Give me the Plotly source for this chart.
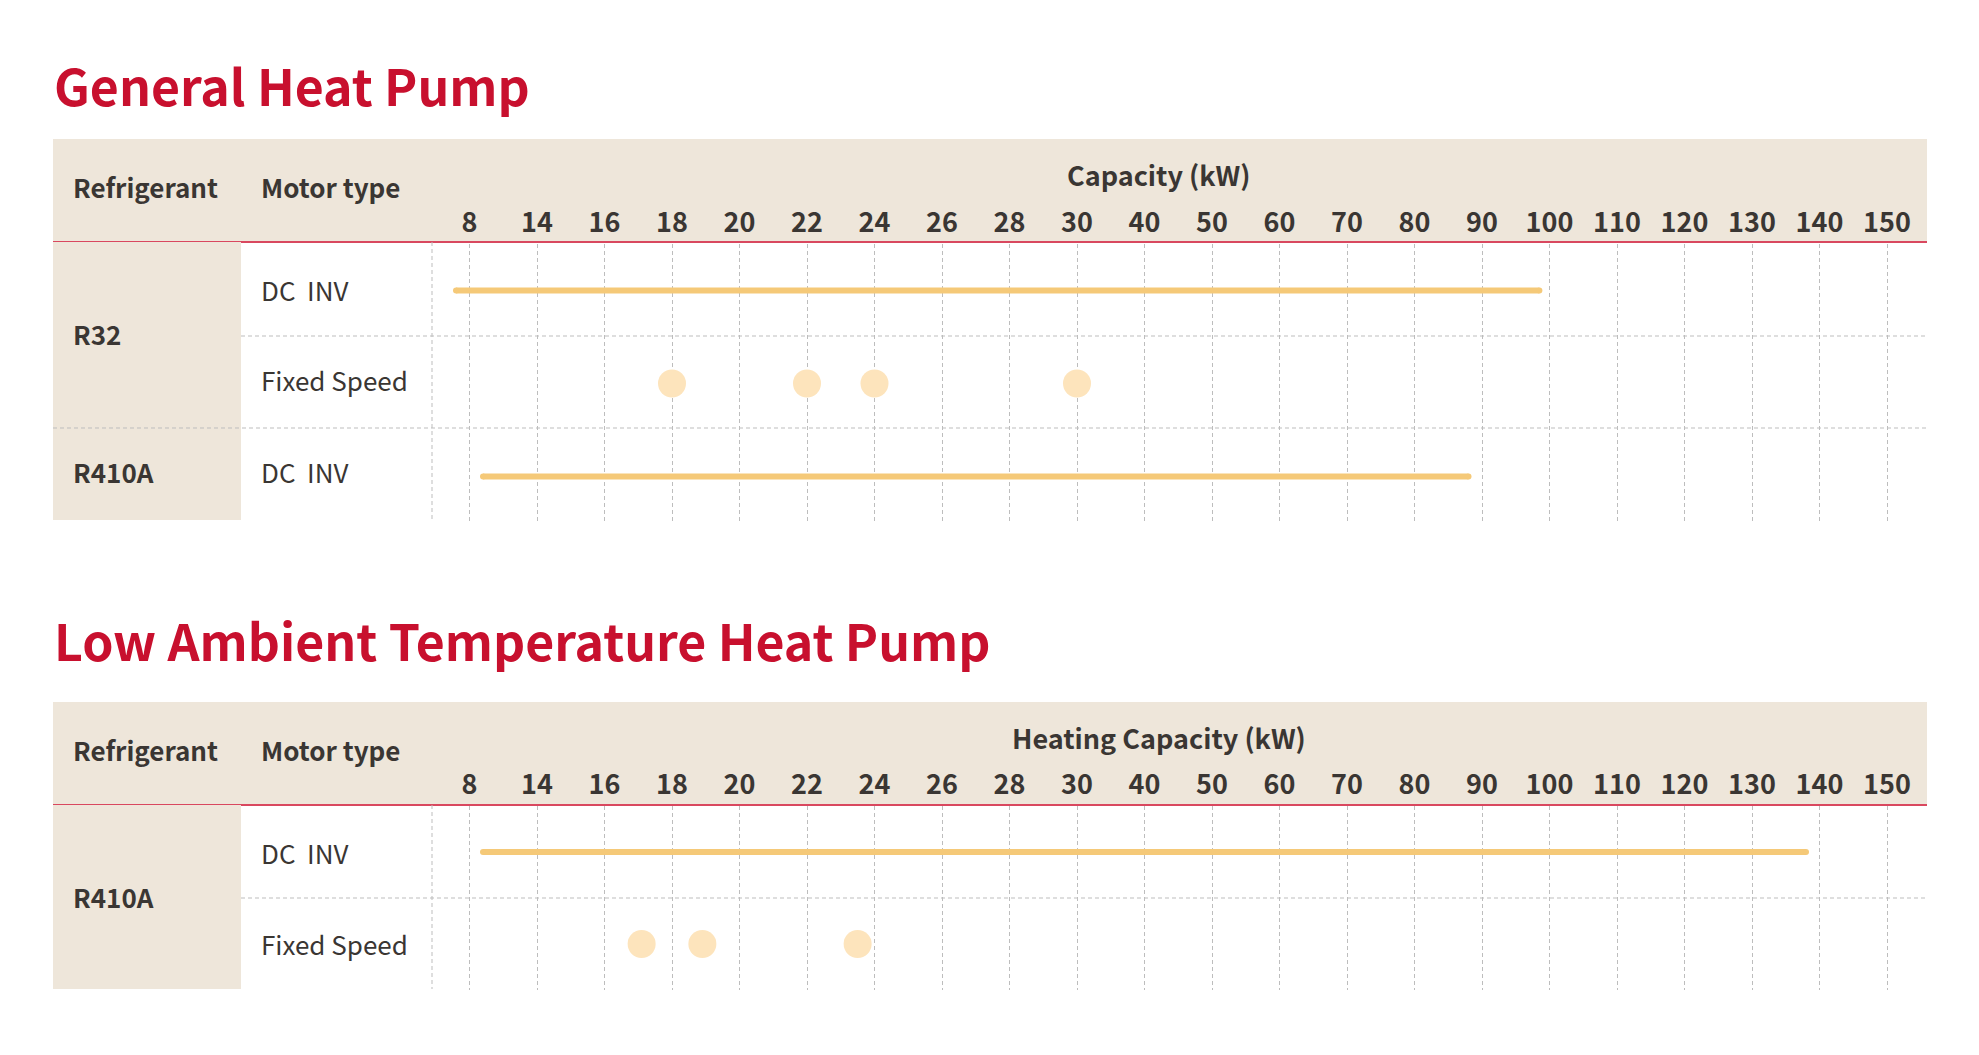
import numpy as np
import plotly.graph_objects as go

W, H = 1979, 1055

# ---------------- data ----------------
tick_values = [8, 14, 16, 18, 20, 22, 24, 26, 28, 30, 40, 50, 60, 70, 80, 90,
               100, 110, 120, 130, 140, 150]
tick_labels = [str(v) for v in tick_values]

# General Heat Pump
gen_rows = ["DC INV (R32)", "Fixed Speed (R32)", "DC INV (R410A)"]
gen_r32_inv_range = [6.8, 98.5]
gen_r32_fixed = [18, 22, 24, 30]
gen_r410a_inv_range = [9.2, 88]

# Low Ambient Temperature Heat Pump
low_rows = ["DC INV (R410A)", "Fixed Speed (R410A)"]
low_r410a_inv_range = [9.2, 138]
low_r410a_fixed = [17.1, 18.9, 23.5]

# ---------------- styling ----------------
FONT = "Noto Sans CJK SC"
RED = "#C8102E"
BAND = "#EEE6DA"
LINE_RED = "#D9485F"
TXT = "#3A3633"
GOLD = "#F5C978"
PEACH = "#FDE4BC"
GRID = "#BDBDBD"
DASH = "4px,3px"


def to_idx(vals):
    """Map capacity values onto the evenly spaced tick index scale."""
    vals = np.asarray(vals, dtype=float)
    idx = np.interp(vals, tick_values, np.arange(len(tick_values)))
    lo = vals < tick_values[0]
    idx[lo] = (vals[lo] - tick_values[0]) / (tick_values[1] - tick_values[0])
    return idx


def px(x):
    return x / W


def py(y):
    return 1 - y / H


# pixel geometry
GX0, GX1 = 432, 1927          # grid area left/right
T0_PX, STEP = 469.5, 67.5      # pixel of first tick & spacing
xr = [(GX0 - T0_PX) / STEP, (GX1 - T0_PX) / STEP]

fig = go.Figure()

# Section 1 traces (xaxis / yaxis)
for rng, row in [(gen_r32_inv_range, 0), (gen_r410a_inv_range, 2)]:
    fig.add_trace(go.Scatter(
        x=to_idx(rng), y=[row, row], mode="lines+markers",
        line=dict(color=GOLD, width=6), marker=dict(color=GOLD, size=6),
        xaxis="x", yaxis="y", hoverinfo="skip", showlegend=False))
fig.add_trace(go.Scatter(
    x=to_idx(gen_r32_fixed), y=[1] * len(gen_r32_fixed), mode="markers",
    marker=dict(color=PEACH, size=28), xaxis="x", yaxis="y",
    hoverinfo="skip", showlegend=False))

# Section 2 traces (xaxis2 / yaxis2)
fig.add_trace(go.Scatter(
    x=to_idx(low_r410a_inv_range), y=[0, 0], mode="lines+markers",
    line=dict(color=GOLD, width=6), marker=dict(color=GOLD, size=6),
    xaxis="x2", yaxis="y2", hoverinfo="skip", showlegend=False))
fig.add_trace(go.Scatter(
    x=to_idx(low_r410a_fixed), y=[1] * len(low_r410a_fixed), mode="markers",
    marker=dict(color=PEACH, size=28), xaxis="x2", yaxis="y2",
    hoverinfo="skip", showlegend=False))

xaxis_common = dict(
    range=xr, tickmode="array", tickvals=list(range(len(tick_values))),
    ticktext=tick_labels, side="top", ticks="", showline=False, zeroline=False,
    showgrid=True, gridcolor=GRID, griddash=DASH, gridwidth=1,
    tickfont=dict(family=FONT, size=27, color=TXT, weight=700),
    fixedrange=True)
yaxis_common = dict(showgrid=False, zeroline=False, showticklabels=False,
                    showline=False, fixedrange=True)

fig.update_layout(
    width=W, height=H, margin=dict(l=0, r=0, t=0, b=0),
    paper_bgcolor="white", plot_bgcolor="rgba(0,0,0,0)",
    xaxis=dict(domain=[px(GX0), px(GX1)], anchor="y", ticklabelstandoff=6, **xaxis_common),
    yaxis=dict(domain=[py(523), py(244)], range=[2.5, -0.5], anchor="x", **yaxis_common),
    xaxis2=dict(domain=[px(GX0), px(GX1)], anchor="y2", ticklabelstandoff=6, **xaxis_common),
    yaxis2=dict(domain=[py(990), py(806)], range=[1.5, -0.5], anchor="x2", **yaxis_common),
)

shapes = []
annotations = []


def rect(x0, y0, x1, y1, color):
    shapes.append(dict(type="rect", xref="paper", yref="paper",
                       x0=px(x0), x1=px(x1), y0=py(y0), y1=py(y1),
                       fillcolor=color, line=dict(width=0), layer="below"))


def hline(x0, x1, y, color, width, dash=None):
    shapes.append(dict(type="line", xref="paper", yref="paper",
                       x0=px(x0), x1=px(x1), y0=py(y), y1=py(y),
                       line=dict(color=color, width=width, dash=dash), layer="below"))


def vline(x, y0, y1):
    shapes.append(dict(type="line", xref="paper", yref="paper",
                       x0=px(x), x1=px(x), y0=py(y0), y1=py(y1),
                       line=dict(color=GRID, width=1, dash=DASH), layer="below"))


def text(t, x, y, size, bold=False, color=TXT, xanchor="left"):
    annotations.append(dict(
        text=t, xref="paper", yref="paper", x=px(x), y=py(y),
        xanchor=xanchor, yanchor="middle", showarrow=False,
        font=dict(family=FONT, size=size, color=color, weight=700 if bold else 400)))


def section(title, title_y, band_top, band_bot, body_bot, cap_label, dividers, rows):
    text(title, 52, title_y, 50, bold=True, color=RED)
    rect(53, band_top, 1927, band_bot, BAND)
    hline(53, 1927, band_bot, LINE_RED, 2)
    rect(53, band_bot, 241, body_bot, BAND)
    vline(GX0, band_bot, body_bot)
    for x0, y in dividers:
        hline(x0, 1927, y, GRID, 1, DASH)
    hy = band_top + 47
    text("Refrigerant", 71, hy, 26, bold=True)
    text("Motor type", 259, hy, 26, bold=True)
    text(cap_label, 1159, band_top + 35, 27, bold=True, xanchor="center")
    for t, x, y, b in rows:
        text(t, x, y, 26, bold=b)


section("General Heat Pump", 84, 139, 242, 520, "Capacity (kW)",
        [(241, 336), (53, 428)],
        [("R32", 71, 333, True), ("R410A", 71, 472, True),
         ("DC\u00a0\u00a0INV", 259, 289, False), ("Fixed Speed", 259, 379, False),
         ("DC\u00a0\u00a0INV", 259, 472, False)])

section("Low Ambient Temperature Heat Pump", 639, 702, 805, 989, "Heating Capacity (kW)",
        [(241, 898)],
        [("R410A", 71, 896, True),
         ("DC\u00a0\u00a0INV", 259, 852, False), ("Fixed Speed", 259, 943, False)])

fig.update_layout(shapes=shapes, annotations=annotations)
fig.write_html("out.html")
